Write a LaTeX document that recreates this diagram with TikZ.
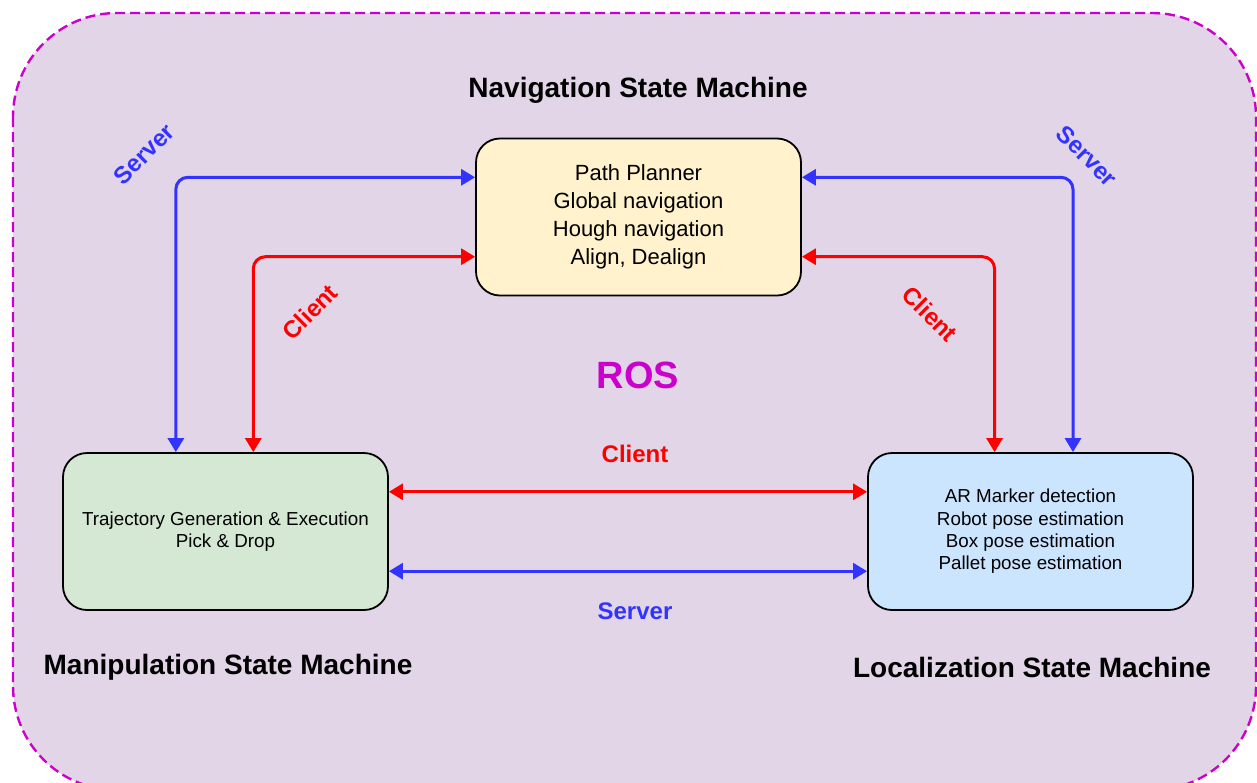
\documentclass[tikz,border=0pt]{standalone}
\usepackage{fontspec}
\setmainfont{Liberation Sans}
\usetikzlibrary{arrows.meta,calc}

\definecolor{framefill}{HTML}{E1D5E7}
\definecolor{framedash}{HTML}{CC00CC}
\definecolor{srvblue}{HTML}{3333FF}
\definecolor{clired}{HTML}{FF0000}
\definecolor{navfill}{HTML}{FFF2CC}
\definecolor{manfill}{HTML}{D5E8D4}
\definecolor{locfill}{HTML}{CCE5FF}

\begin{document}
\begin{tikzpicture}[x=0.5pt,y=-0.5pt,
    smbox/.style={draw, rounded corners=12pt, line width=0.9pt, minimum width=162.5pt, minimum height=78.5pt, align=center, inner sep=0pt, execute at begin node={\rule{0pt}{1.1em}}},
    srv/.style={draw=srvblue, line width=1.5pt, rounded corners=6pt, {Triangle[length=7pt,width=8pt]}-{Triangle[length=7pt,width=8pt]}},
    cli/.style={srv, draw=clired},
    ttl/.style={font=\bfseries\fontsize{14}{17}\selectfont},
    lbl/.style={font=\bfseries\fontsize{12}{14}\selectfont}
]
\useasboundingbox (0,0) rectangle (1257,782);
\clip (0,0) rectangle (1257,782);

% outer ROS frame
\draw[fill=framefill, draw=framedash, line width=1.2pt, dash pattern=on 5pt off 2.5pt, rounded corners=52pt] (13,13) rectangle (1256,790);

% state machines
\node[smbox, fill=navfill, font=\fontsize{11}{14}\selectfont] (nav) at (638.5,217) {Path Planner\\Global navigation\\Hough navigation\\Align, Dealign};
\node[smbox, fill=manfill, font=\fontsize{9.4}{11.2}\selectfont] (man) at (225.5,531.5) {Trajectory Generation \& Execution\\Pick \& Drop};
\node[smbox, fill=locfill, font=\fontsize{9.4}{11.2}\selectfont] (loc) at (1030.5,531.5) {AR Marker detection\\Robot pose estimation\\Box pose estimation\\Pallet pose estimation};

\node[ttl] (navttl) at (638,90) {Navigation State Machine};
\node[ttl] (manttl) at (228,667) {Manipulation State Machine};
\node[ttl] (locttl) at (1032,667) {Localization State Machine};
\node[font=\bfseries\fontsize{19}{22}\selectfont, text=framedash] (ros) at (638,375) {ROS};

% left: nav <-> manipulation
\draw[srv] ($(nav.north west)!0.25!(nav.south west)$) -| ($(man.north west)!0.348!(man.north east)$);
\draw[cli] ($(nav.north west)!0.75!(nav.south west)$) -| ($(man.north west)!0.585!(man.north east)$);
\node[lbl, text=srvblue, rotate=45] (srvl) at (144,154) {Server};
\node[lbl, text=clired, rotate=45] (clil) at (310,312) {Client};

% right: nav <-> localization
\draw[srv] ($(nav.north east)!0.25!(nav.south east)$) -| ($(loc.north west)!0.63!(loc.north east)$);
\draw[cli] ($(nav.north east)!0.75!(nav.south east)$) -| ($(loc.north west)!0.39!(loc.north east)$);
\node[lbl, text=srvblue, rotate=-45] (srvr) at (1087,156) {Server};
\node[lbl, text=clired, rotate=-45] (clir) at (930,314) {Client};

% bottom: manipulation <-> localization
\draw[cli] ($(man.north east)!0.25!(man.south east)$) -- ($(loc.north west)!0.25!(loc.south west)$);
\draw[srv] ($(man.north east)!0.75!(man.south east)$) -- ($(loc.north west)!0.75!(loc.south west)$);
\node[lbl, text=clired] (clim) at (635,454) {Client};
\node[lbl, text=srvblue] (srvm) at (635,611) {Server};
\end{tikzpicture}
\end{document}
